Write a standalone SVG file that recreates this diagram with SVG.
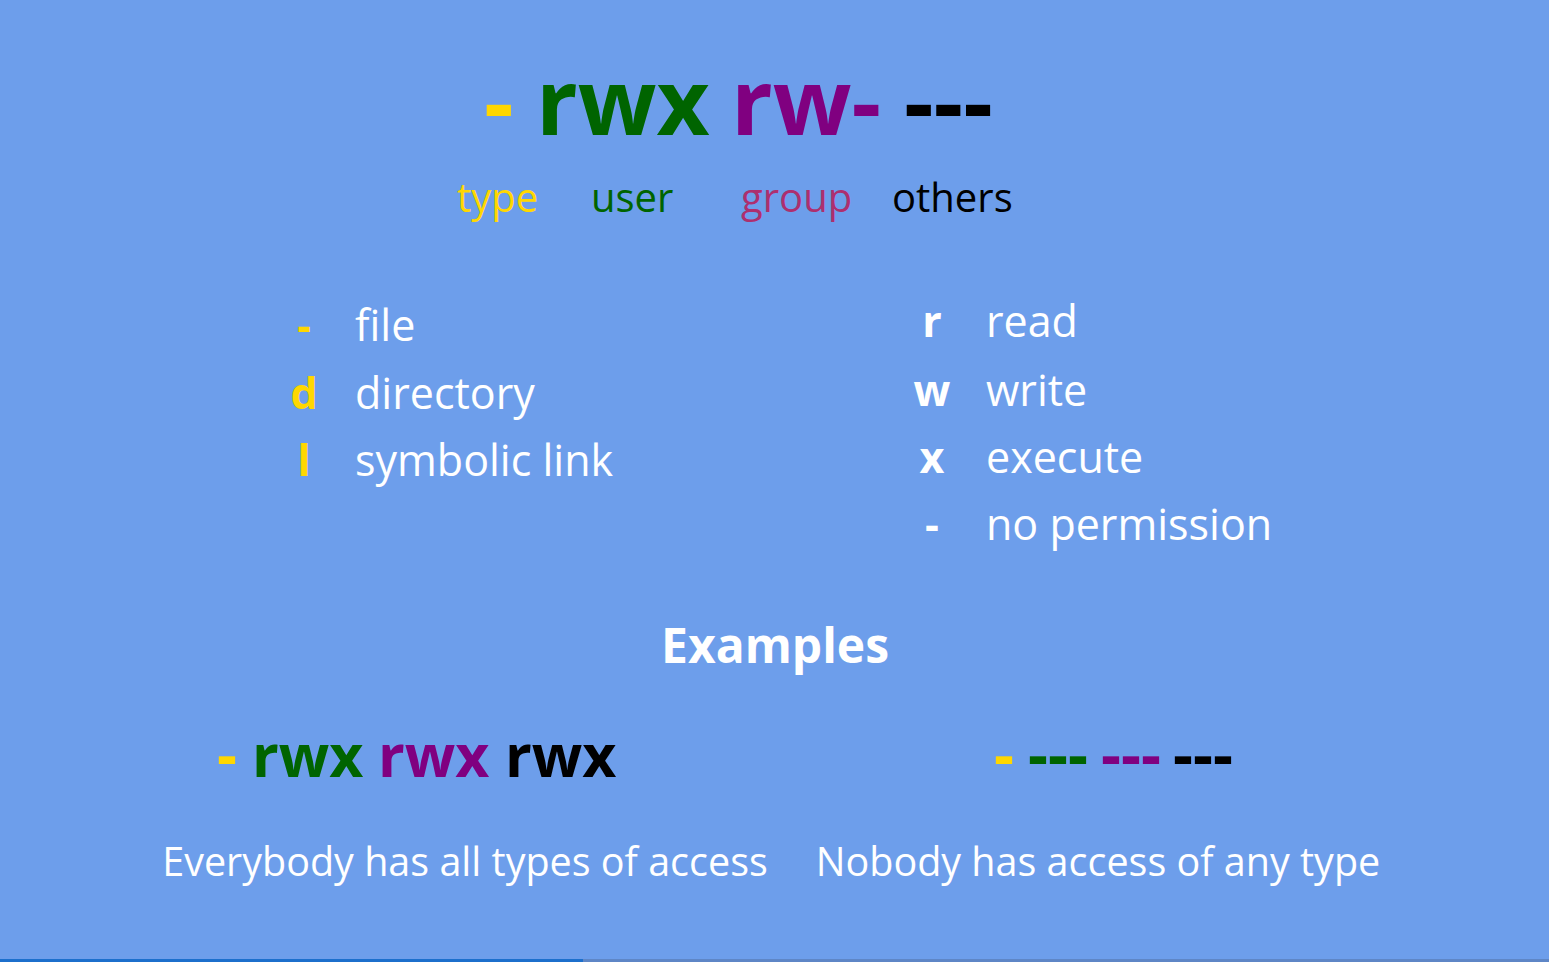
<svg xmlns="http://www.w3.org/2000/svg" width="1549" height="962" viewBox="0 0 1549 962">
  <style>
    text { font-family: "Open Sans", "Noto Sans", "DejaVu Sans", sans-serif; }
    .b { font-weight: 700; }
    .yellow { fill: #ffd700; }
    .green { fill: #006400; }
    .purple { fill: #800080; }
    .black { fill: #000000; }
    .white { fill: #ffffff; }
    .lbl { font-size: 40px; }
    .item { font-size: 43px; fill: #ffffff; }
    .key { font-size: 43px; font-weight: 700; text-anchor: middle; }
    .caption { font-size: 39.5px; font-weight: 400; fill: #ffffff; text-anchor: middle; }
  </style>

  <!-- slide background -->
  <rect x="0" y="0" width="1549" height="962" fill="#6d9eeb"/>

  <!-- permission string -->
  <g id="title" class="b" font-size="92">
    <text x="484" y="135" class="yellow">-</text>
    <text x="536" y="135" class="green">rwx</text>
    <text x="731" y="135" class="purple">rw-</text>
    <text x="904" y="135" class="black">---</text>
  </g>

  <!-- field names -->
  <g id="labels" class="lbl">
    <text x="457" y="212" class="yellow">type</text>
    <text x="591" y="212" class="green">user</text>
    <text x="741" y="212" fill="#ad2f6f">group</text>
    <text x="892" y="212" class="black">others</text>
  </g>

  <!-- file types -->
  <g id="types">
    <text x="304" y="341" class="key yellow">-</text>
    <text x="355" y="341" class="item">file</text>
    <text x="304" y="409" class="key yellow">d</text>
    <text x="355" y="409" class="item">directory</text>
    <text x="304" y="476" class="key yellow">l</text>
    <text x="355" y="476" class="item">symbolic link</text>
  </g>

  <!-- permission letters -->
  <g id="perms">
    <text x="932" y="337" class="key white">r</text>
    <text x="986" y="337" class="item">read</text>
    <text x="932" y="406" class="key white">w</text>
    <text x="986" y="406" class="item">write</text>
    <text x="932" y="473" class="key white">x</text>
    <text x="986" y="473" class="item">execute</text>
    <text x="932" y="540" class="key white">-</text>
    <text x="986" y="540" class="item">no permission</text>
  </g>

  <text id="examples" x="775" y="663" class="b white" font-size="48" text-anchor="middle">Examples</text>

  <!-- example: full access -->
  <g id="example-all" class="b" font-size="59">
    <text x="217" y="777" font-size="62" class="yellow">-</text>
    <text x="252" y="777" class="green">rwx</text>
    <text x="378" y="777" class="purple">rwx</text>
    <text x="505" y="777" class="black">rwx</text>
    <text x="465" y="876" class="caption">Everybody has all types of access</text>
  </g>

  <!-- example: no access -->
  <g id="example-none" class="b" font-size="62">
    <text x="994" y="777" class="yellow">-</text>
    <text x="1028" y="777" class="green">---</text>
    <text x="1101" y="777" class="purple">---</text>
    <text x="1173" y="777" class="black">---</text>
    <text x="1098" y="876" class="caption">Nobody has access of any type</text>
  </g>

  <!-- progress bar along the bottom edge -->
  <rect x="0" y="959" width="1549" height="3" fill="#5e86c6"/>
  <rect x="0" y="959" width="583" height="3" fill="#1c6fcc"/>
</svg>
